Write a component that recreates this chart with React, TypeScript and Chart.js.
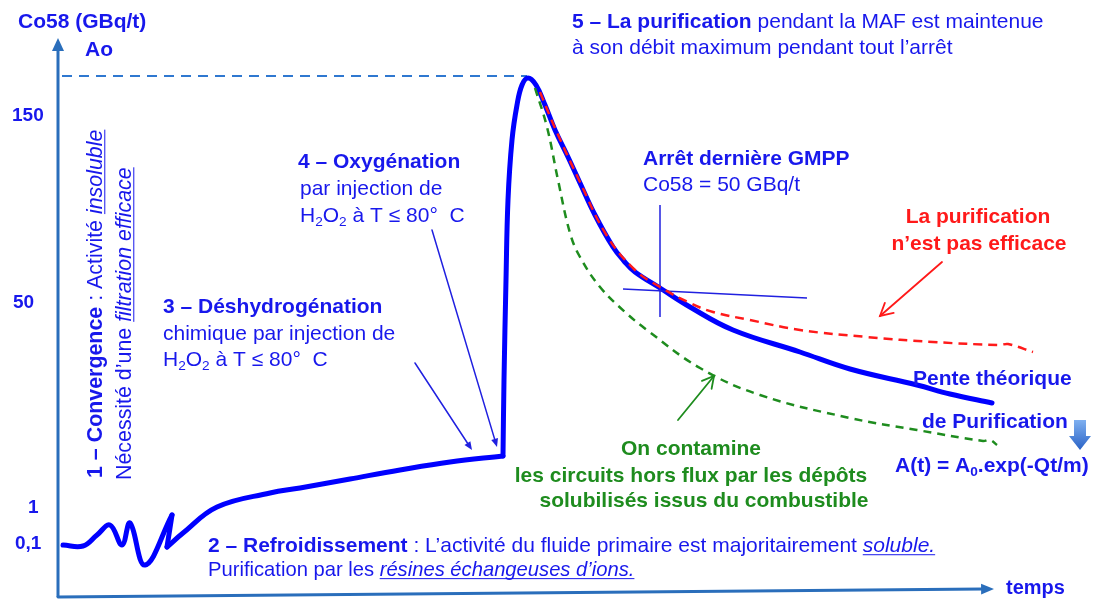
import React, { useEffect, useRef } from "react";
import { Chart, registerables } from "chart.js";
Chart.register(...registerables);

const FONT = '"Liberation Sans", Arial, Helvetica, sans-serif';

// x = time (relative units), y = Co58 activity level (relative, log-like units)
const mainT = [5, 25, 39, 52, 64, 72, 87, 114, 109, 125, 159, 212, 242, 292, 342, 392, 445, 446, 448, 450, 454, 459, 464, 470, 478, 487, 497, 510, 522, 537, 555, 566, 577, 602, 632, 675, 742, 792, 859, 892, 934];
const mainA = [52, 51, 62, 72, 52, 74, 32, 82, 50, 64, 90, 104, 109, 118, 127, 135, 141, 217, 317, 397, 457, 492, 512, 519, 512, 492, 467, 440, 414, 382, 350, 336, 325, 309, 290, 267, 245, 228, 212, 203, 194];
const mainBreaks = [7, 8, 16];

const redT = [482, 497, 522, 549, 577, 602, 632, 655, 692, 742, 809, 875, 942, 950, 975];
const redA = [505, 469, 415, 361, 327, 310, 294, 285, 277, 267, 260, 255, 252, 253, 245];

const greenT = [477, 489, 500, 512, 522, 542, 567, 589, 642, 702, 792, 859, 925, 932, 939];
const greenA = [509, 470, 417, 364, 340, 310, 285, 267, 229, 202, 179, 167, 156, 157, 152];

const aoT = [4, 469];
const aoA = [521, 521];

const crossVT = [602, 602];
const crossVA = [392, 280];
const crossHT = [565, 749];
const crossHA = [308, 299];

const yTickValues = [484, 297, 92, 56];
const yTickLabels = ["150", "50", "1", "0,1"];
const yTickLeft = [12, 13, 28, 15];
const xAxisLabel = "temps";

const BLUE = "#0000FF";
const TXT = "#1818EC";
const AXIS = "#2A6EBB";
const RED = "#FF1A1A";
const GREEN = "#1E8C1E";

type Seg = { t: string; b?: boolean; i?: boolean; u?: boolean; sub?: boolean };

function fnt(size: number, b?: boolean, i?: boolean) {
  return `${i ? "italic " : ""}${b ? "bold " : ""}${size}px ${FONT}`;
}

function drawRich(ctx: CanvasRenderingContext2D, segs: Seg[], x: number, y: number, size: number, color: string, align: "left" | "center" = "left") {
  let total = 0;
  const widths = segs.map((s) => {
    ctx.font = fnt(s.sub ? size * 0.65 : size, s.b, s.i);
    const w = ctx.measureText(s.t).width;
    total += w;
    return w;
  });
  let cx = align === "center" ? x - total / 2 : x;
  ctx.fillStyle = color;
  ctx.strokeStyle = color;
  ctx.textAlign = "left";
  ctx.textBaseline = "alphabetic";
  segs.forEach((s, k) => {
    ctx.font = fnt(s.sub ? size * 0.65 : size, s.b, s.i);
    ctx.fillText(s.t, cx, s.sub ? y + size * 0.2 : y);
    if (s.u) {
      ctx.lineWidth = 1;
      ctx.beginPath();
      ctx.moveTo(cx, y + size * 0.13);
      ctx.lineTo(cx + widths[k], y + size * 0.13);
      ctx.stroke();
    }
    cx += widths[k];
  });
}

function arrow(ctx: CanvasRenderingContext2D, x1: number, y1: number, x2: number, y2: number, color: string, lw: number, head: number, filled: boolean) {
  const ang = Math.atan2(y2 - y1, x2 - x1);
  ctx.save();
  ctx.strokeStyle = color;
  ctx.fillStyle = color;
  ctx.lineWidth = lw;
  ctx.lineCap = "round";
  ctx.beginPath();
  ctx.moveTo(x1, y1);
  if (filled) ctx.lineTo(x2 - head * 0.8 * Math.cos(ang), y2 - head * 0.8 * Math.sin(ang));
  else ctx.lineTo(x2, y2);
  ctx.stroke();
  const spread = filled ? 0.4 : 0.5;
  const a1 = ang + Math.PI - spread;
  const a2 = ang + Math.PI + spread;
  ctx.beginPath();
  ctx.moveTo(x2 + head * Math.cos(a1), y2 + head * Math.sin(a1));
  ctx.lineTo(x2, y2);
  ctx.lineTo(x2 + head * Math.cos(a2), y2 + head * Math.sin(a2));
  if (filled) {
    ctx.closePath();
    ctx.fill();
  } else ctx.stroke();
  ctx.restore();
}

const h2o2 = (rest: string): Seg[] => [
  { t: "H" }, { t: "2", sub: true }, { t: "O" }, { t: "2", sub: true }, { t: rest },
];

const decoPlugin = {
  id: "deco",
  beforeDatasetsDraw(chart: any) {
    const ctx: CanvasRenderingContext2D = chart.ctx;
    const xs = chart.scales.x;
    const ys = chart.scales.y;
    const x0 = xs.getPixelForValue(0);
    const y0 = ys.getPixelForValue(0);
    ctx.save();
    // y axis
    ctx.strokeStyle = AXIS;
    ctx.lineWidth = 3;
    ctx.beginPath();
    ctx.moveTo(x0, y0);
    ctx.lineTo(x0, 48);
    ctx.stroke();
    ctx.fillStyle = AXIS;
    ctx.beginPath();
    ctx.moveTo(x0, 38);
    ctx.lineTo(x0 - 6, 51);
    ctx.lineTo(x0 + 6, 51);
    ctx.closePath();
    ctx.fill();
    // x axis
    arrow(ctx, x0, y0, 994, 589, AXIS, 3, 14, true);
    ctx.restore();
  },
  afterDatasetsDraw(chart: any) {
    const ctx: CanvasRenderingContext2D = chart.ctx;
    const ys = chart.scales.y;
    ctx.save();
    // titles
    drawRich(ctx, [{ t: "Co58 (GBq/t)", b: true }], 18, 28, 21, TXT);
    drawRich(ctx, [{ t: "Ao", b: true }], 85, 56, 21, TXT);
    yTickValues.forEach((v, k) => {
      drawRich(ctx, [{ t: yTickLabels[k], b: true }], yTickLeft[k], ys.getPixelForValue(v) + 8, 19, TXT);
    });
    drawRich(ctx, [{ t: xAxisLabel, b: true }], 1006, 594, 20, TXT);

    // vertical text
    ctx.save();
    ctx.translate(102, 478);
    ctx.rotate(-Math.PI / 2);
    drawRich(ctx, [{ t: "1 – Convergence", b: true }, { t: " : Activité " }, { t: "insoluble", i: true, u: true }], 0, 0, 21.4, TXT);
    ctx.restore();
    ctx.save();
    ctx.translate(131, 480);
    ctx.rotate(-Math.PI / 2);
    drawRich(ctx, [{ t: "Nécessité d’une " }, { t: "filtration efficace", i: true, u: true }], 0, 0, 21.4, TXT);
    ctx.restore();

    // step 5
    drawRich(ctx, [{ t: "5 – La purification", b: true }, { t: " pendant la MAF est maintenue" }], 572, 28, 21, TXT);
    drawRich(ctx, [{ t: "à son débit maximum pendant tout l’arrêt" }], 572, 54, 21, TXT);

    // GMPP
    drawRich(ctx, [{ t: "Arrêt dernière GMPP", b: true }], 643, 165, 21, TXT);
    drawRich(ctx, [{ t: "Co58 = 50 GBq/t" }], 643, 191, 21, TXT);

    // step 4
    drawRich(ctx, [{ t: "4 – Oxygénation", b: true }], 298, 168, 21, TXT);
    drawRich(ctx, [{ t: "par injection de" }], 300, 195, 21, TXT);
    drawRich(ctx, h2o2(" à T ≤ 80°  C"), 300, 222, 21, TXT);

    // step 3
    drawRich(ctx, [{ t: "3 – Déshydrogénation", b: true }], 163, 313, 21, TXT);
    drawRich(ctx, [{ t: "chimique par injection de" }], 163, 340, 21, TXT);
    drawRich(ctx, h2o2(" à T ≤ 80°  C"), 163, 366, 21, TXT);

    // step 2
    drawRich(ctx, [{ t: "2 – Refroidissement", b: true }, { t: " : L’activité du fluide primaire est majoritairement " }, { t: "soluble.", i: true, u: true }], 208, 552, 21, TXT);
    drawRich(ctx, [{ t: "Purification par les " }, { t: "résines échangeuses d’ions.", i: true, u: true }], 208, 576, 20.2, TXT);

    // red note
    drawRich(ctx, [{ t: "La purification", b: true }], 978, 223, 21, RED, "center");
    drawRich(ctx, [{ t: "n’est pas efficace", b: true }], 979, 250, 21, RED, "center");

    // theoretical slope
    drawRich(ctx, [{ t: "Pente théorique", b: true }], 913, 385, 21, TXT);
    drawRich(ctx, [{ t: "de Purification", b: true }], 922, 428, 21, TXT);
    drawRich(ctx, [{ t: "A(t) = A", b: true }, { t: "0", b: true, sub: true }, { t: ".exp(-Qt/m)", b: true }], 895, 472, 21, TXT);

    // green note
    drawRich(ctx, [{ t: "On contamine", b: true }], 691, 455, 21, GREEN, "center");
    drawRich(ctx, [{ t: "les circuits hors flux par les dépôts", b: true }], 691, 482, 21, GREEN, "center");
    drawRich(ctx, [{ t: "solubilisés issus du combustible", b: true }], 704, 507, 21, GREEN, "center");

    // annotation arrows
    arrow(ctx, 942, 262, 880, 316, RED, 1.8, 14, false);
    arrow(ctx, 678, 420, 714, 376, GREEN, 1.8, 13, false);
    arrow(ctx, 415, 363, 472, 450, "#2020E0", 1.5, 9, true);
    arrow(ctx, 432, 230, 497, 447, "#2020E0", 1.5, 9, true);

    // blue block arrow
    const g = ctx.createLinearGradient(0, 420, 0, 450);
    g.addColorStop(0, "#7FB0F0");
    g.addColorStop(1, "#2A62C6");
    ctx.fillStyle = g;
    ctx.beginPath();
    ctx.moveTo(1074, 420);
    ctx.lineTo(1086, 420);
    ctx.lineTo(1086, 436);
    ctx.lineTo(1091, 436);
    ctx.lineTo(1080, 450);
    ctx.lineTo(1069, 436);
    ctx.lineTo(1074, 436);
    ctx.closePath();
    ctx.fill();
    ctx.restore();
  },
};

function pts(t: number[], a: number[]) {
  return t.map((x, k) => ({ x, y: a[k] }));
}

export default function App() {
  const ref = useRef<HTMLCanvasElement>(null);
  useEffect(() => {
    if (!ref.current) return;
    const mainPts = pts(mainT, mainA);
    const cuts = [0, ...mainBreaks, mainPts.length - 1];
    const mainSegs = [];
    for (let k = 0; k < cuts.length - 1; k++) {
      mainSegs.push({
        data: mainPts.slice(cuts[k], cuts[k + 1] + 1),
        borderColor: BLUE,
        borderWidth: 5,
        tension: k === 1 ? 0 : 0.4,
        order: 5,
        borderCapStyle: "round",
        borderJoinStyle: "round",
      });
    }
    const line = (data: any, color: string, width: number, dash: number[], order: number, tension = 0.4) => ({
      data, borderColor: color, borderWidth: width, borderDash: dash, order, tension,
    });
    const chart = new Chart(ref.current, {
      type: "scatter",
      data: {
        datasets: [
          line(pts(redT, redA), RED, 2.5, [9, 6], 0),
          line(pts(greenT, greenA), GREEN, 2.5, [8, 6], 1),
          line(pts(crossVT, crossVA), "#2020E0", 1.5, [], 2, 0),
          line(pts(crossHT, crossHA), "#2020E0", 1.5, [], 2, 0),
          line(pts(aoT, aoA), "#2F78D0", 2, [10, 7], 6, 0),
          ...mainSegs,
        ].map((d: any) => ({ ...d, showLine: true, pointRadius: 0, pointHoverRadius: 0, fill: false, clip: false })),
      },
      options: {
        animation: false,
        responsive: false,
        events: [],
        layout: { padding: { left: 58, right: 0, top: 40, bottom: 6 } },
        plugins: { legend: { display: false }, tooltip: { enabled: false } },
        scales: {
          x: { type: "linear", min: 0, max: 1035, display: false },
          y: { type: "linear", min: 0, max: 557, display: false },
        },
      },
      plugins: [decoPlugin],
    });
    return () => chart.destroy();
  }, []);
  return (
    <div style={{ position: "fixed", left: 0, top: 0, width: 1093, height: 603, background: "#fff" }}>
      <canvas ref={ref} width={1093} height={603} style={{ display: "block" }} />
    </div>
  );
}
